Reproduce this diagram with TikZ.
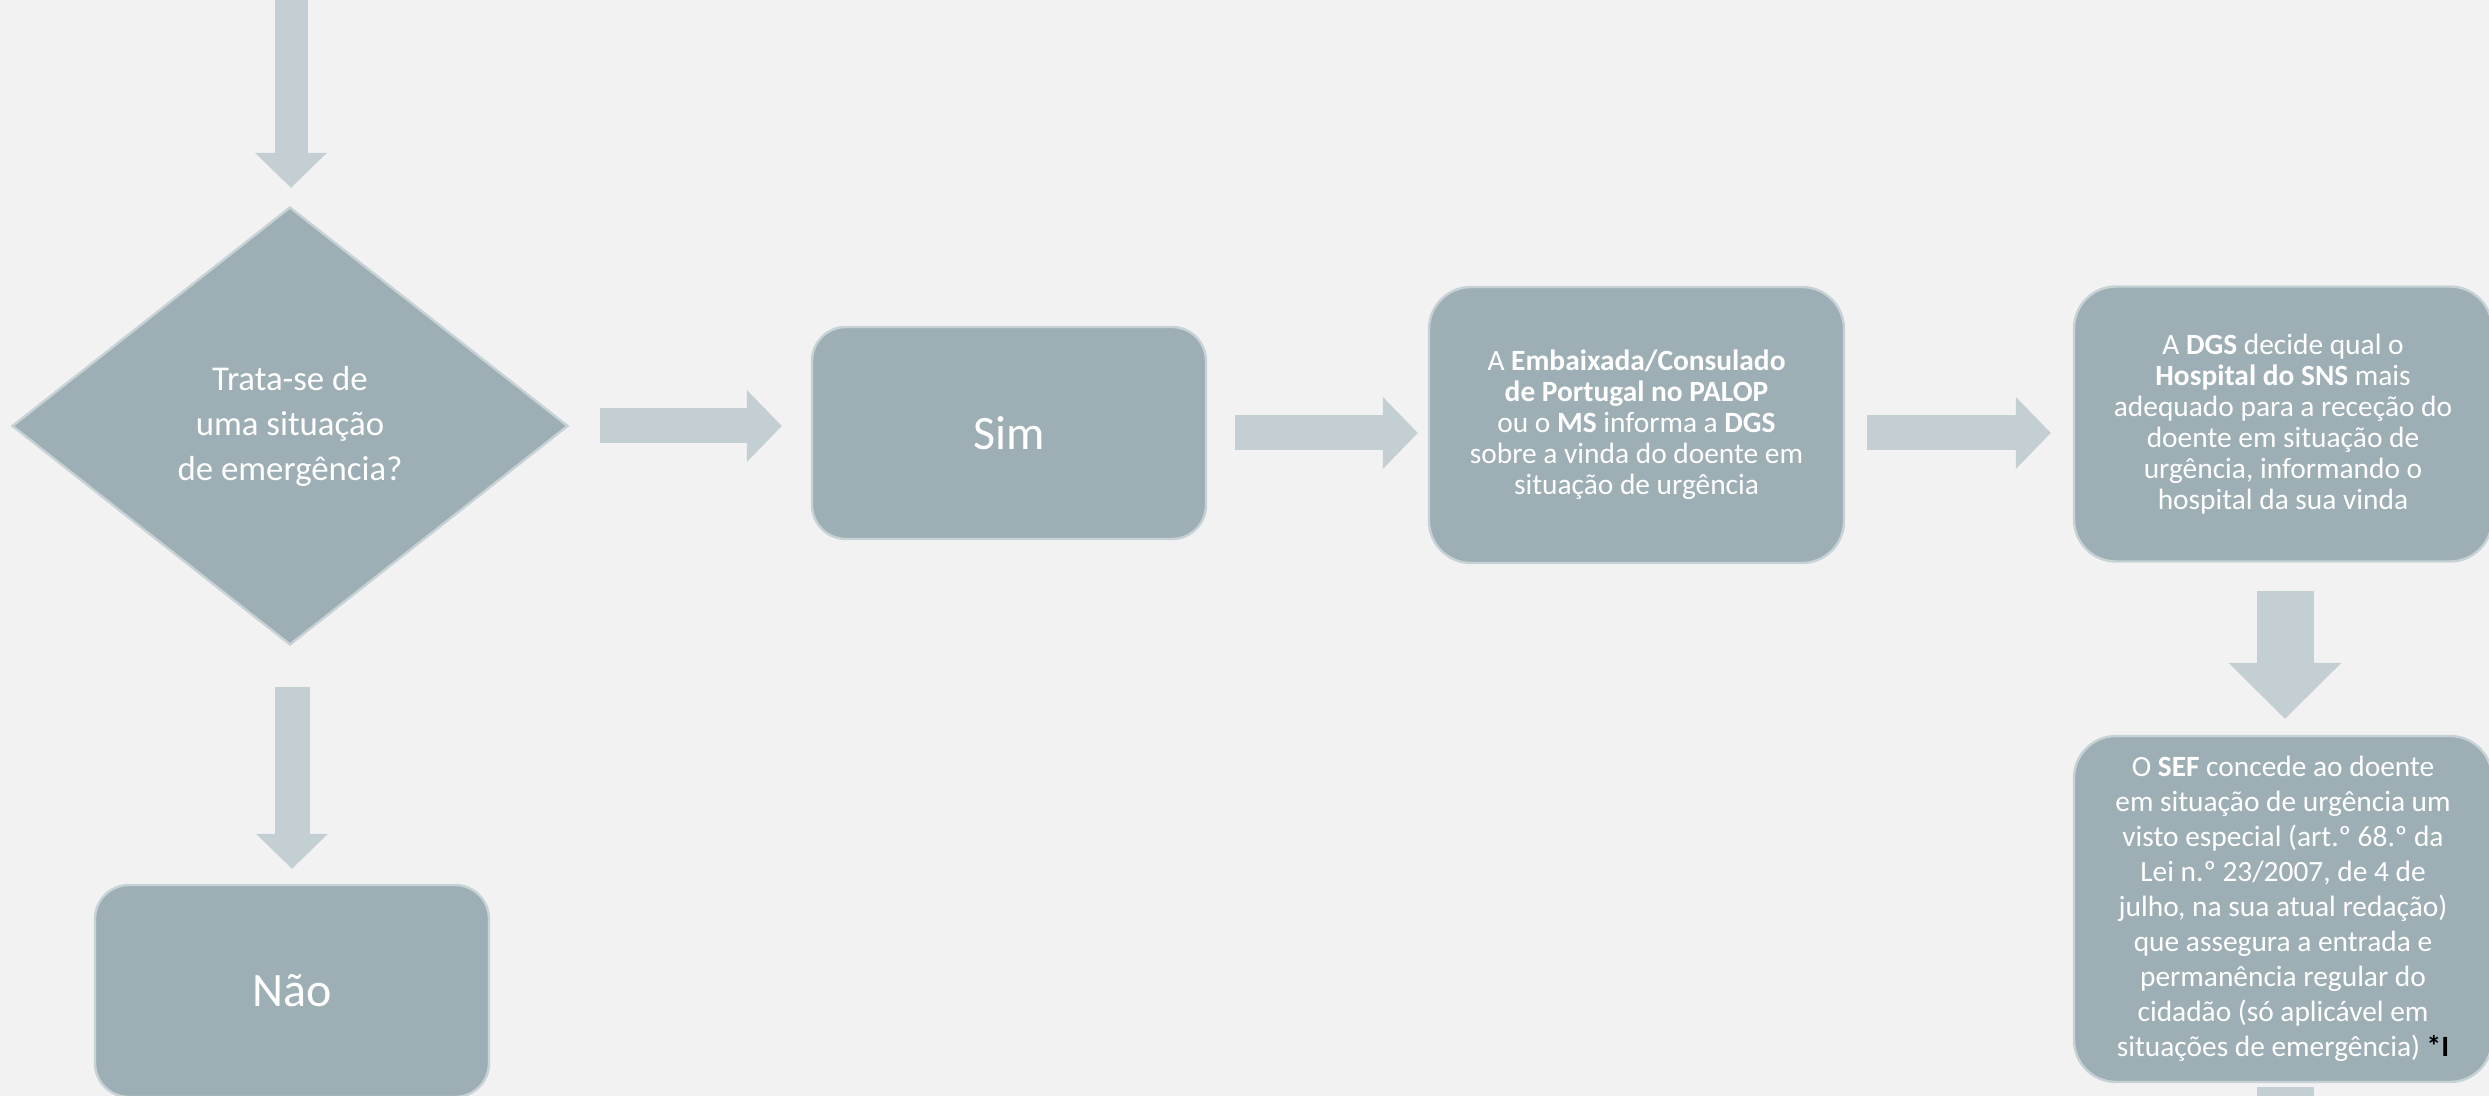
\documentclass[tikz,border=0pt]{standalone}
\usepackage{fontspec}
\setmainfont{Carlito}
\usetikzlibrary{positioning,calc,shapes.geometric,arrows.meta}

\definecolor{bggray}{HTML}{F2F2F2}
\definecolor{boxfill}{HTML}{9DAFB5}
\definecolor{boxline}{HTML}{C6D2D6}
\definecolor{arrowfill}{HTML}{C4CFD3}

\begin{document}
\begin{tikzpicture}[x=0.5pt, y=0.5pt,
    stepbox/.style={draw=boxline, line width=1.2pt, fill=boxfill, rounded corners=21pt,
        text=white, align=center, inner sep=0pt, font=\fontsize{14.7}{15.5}\selectfont},
    answer/.style={stepbox, rounded corners=17pt, minimum width=197pt, minimum height=106pt,
        font=\fontsize{24}{28}\selectfont},
    question/.style={diamond, draw=boxline, line width=1.2pt, fill=boxfill, text=white,
        align=center, inner sep=0pt, minimum width=278pt, minimum height=219pt,
        font=\fontsize{17.4}{22.5}\selectfont},
    flow/.style={draw=arrowfill, line width=17.5pt,
        -{Triangle[width=36pt, length=17.5pt, line width=0pt, fill=arrowfill]}},
    bigflow/.style={draw=arrowfill, line width=28.5pt,
        -{Triangle[width=56.5pt, length=28pt, line width=0pt, fill=arrowfill]}}
]
    % Background
    \fill[bggray] (0,0) rectangle (2489,1096);
    \useasboundingbox (0,0) rectangle (2489,1096);

    % Decision and answers
    \node[question] (q) at (290,670) {Trata-se de\\uma situação\\de emergência?};
    \node[answer] (sim) at (1009,663) {Sim};
    \node[answer] (nao) at (292,105) {Não};

    % Steps
    \node[stepbox, minimum width=207.5pt, minimum height=138pt] (emb) at (1636.5,671)
        {A \textbf{Embaixada/Consulado}\\\textbf{de Portugal no PALOP}\\ou o \textbf{MS} informa a \textbf{DGS}\\sobre a vinda do doente em\\situação de urgência};
    \node[stepbox, minimum width=209pt, minimum height=137.5pt] (dgs) at (2283,672)
        {A \textbf{DGS} decide qual o\\\textbf{Hospital do SNS} mais\\adequado para a receção do\\doente em situação de\\urgência, informando o\\hospital da sua vinda};
    \node[stepbox, minimum width=209pt, minimum height=173pt,
        font=\fontsize{14.7}{17.5}\selectfont] (sef) at (2283,187)
        {O \textbf{SEF} concede ao doente\\em situação de urgência um\\visto especial (art.º 68.º da\\Lei n.º 23/2007, de 4 de\\julho, na sua atual redação)\\que assegura a entrada e\\permanência regular do\\cidadão (só aplicável em\\situações de emergência) \textbf{\textcolor{black}{*I}}};

    % Arrows
    \coordinate (start) at (291,1096);
    \coordinate (next) at (2285,-40);
    \draw[flow, line width=16.5pt] (start) -- ($(q.north)+(1,18)$);
    \draw[flow] ($(q.east)+(31,0)$) -- ($(q.east -| sim.west)+(-29,0)$);
    \draw[flow] ($(sim.east)+(28,0)$) -- ($(sim.east -| emb.west)+(-10,0)$);
    \draw[flow] ($(emb.east |- sim.east)+(22,0)$) -- ($(dgs.west |- sim.east)+(-22,0)$);
    \draw[bigflow] ($(dgs.south)+(2,-28)$) -- ($(sef.north)+(2,16)$);
    \draw[flow] ($(q.south)+(2,-41)$) -- ($(nao.north)+(0,15)$);
    \draw[draw=arrowfill, line width=28.5pt] ($(sef.south)+(2,-4)$) -- (next);
\end{tikzpicture}
\end{document}
